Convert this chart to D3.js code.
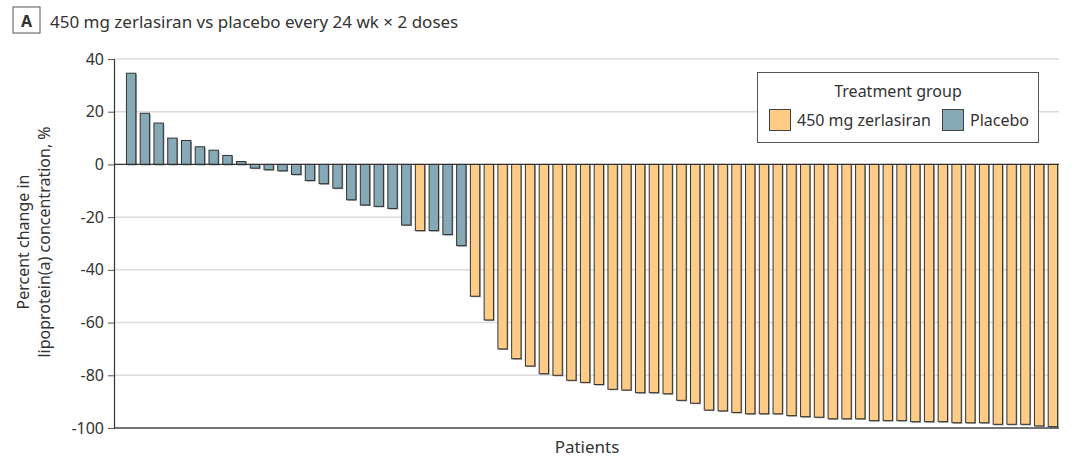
<!DOCTYPE html>
<html><head><meta charset="utf-8">
<script src="https://cdn.jsdelivr.net/npm/d3@7"></script>
<style>body{margin:0;background:#fff}svg{display:block}text{font-family:"Noto Sans",sans-serif;fill:#333}</style>
</head><body><svg id="c" width="1080" height="458"></svg>
<script>
// Data
const patients = d3.range(1, 69).map(i => "P" + i);
const values = [34.6,19.4,15.7,10.0,9.1,6.7,5.4,3.4,1.1,-1.4,-2.0,-2.4,-3.8,-6.1,-7.3,-9.0,-13.4,-15.4,-15.9,-16.7,-23.0,-25.1,-25.1,-26.6,-30.8,
  -50.0,-59.0,-70.0,-73.7,-76.5,-79.4,-80.0,-81.9,-82.7,-83.5,-85.3,-85.6,-86.6,-86.6,-87.0,-89.5,-90.6,-93.2,-93.5,-94.1,
  -94.6,-94.6,-94.6,-95.3,-95.7,-95.9,-96.5,-96.5,-96.5,-97.2,-97.2,-97.2,-97.6,-97.6,-97.6,-98.0,-98.0,-98.0,-98.6,-98.6,-98.6,-99.2,-99.5];
const groups = values.map((v, i) => (i === 21 || i >= 25) ? "450 mg zerlasiran" : "Placebo");
const groupNames = ["450 mg zerlasiran", "Placebo"];
const groupColors = ["#FFCC88", "#86A9B6"];
const yTicks = [40, 20, 0, -20, -40, -60, -80, -100];

const svg = d3.select("#c");
const pL = 114, pR = 1059, pT = 59, pB = 428;
const x = d3.scaleBand().domain(patients).range([123, 1061]).paddingInner(0.32).paddingOuter(0.25);
const y = d3.scaleLinear().domain([-100, 40]).range([pB, pT]);
const color = d3.scaleOrdinal().domain(groupNames).range(groupColors);

// gridlines
svg.append("g").selectAll("line").data(yTicks.filter(t => t !== 0 && t !== -100)).join("line")
  .attr("x1", pL).attr("x2", pR).attr("y1", d => y(d)).attr("y2", d => y(d))
  .attr("stroke", "#dcdcdc").attr("stroke-width", 1.5);

// y axis
const yAxis = svg.append("g").attr("transform", `translate(${pL},0)`)
  .call(d3.axisLeft(y).tickValues(yTicks).tickSize(6).tickPadding(4).tickFormat(d => d));
yAxis.select(".domain").attr("stroke", "#333").attr("stroke-width", 1.2);
yAxis.selectAll(".tick line").attr("stroke", "#555");
yAxis.selectAll(".tick text").style("font-family", '"Noto Sans",sans-serif').style("font-size", "16px").attr("fill", "#333");

// bars: shadow + bar
const data = values.map((v, i) => ({p: patients[i], v, g: groups[i]}));
svg.append("g").selectAll("rect").data(data).join("rect")
  .attr("x", d => x(d.p) + 1).attr("width", x.bandwidth())
  .attr("y", d => Math.min(y(d.v), y(0)) + 1).attr("height", d => Math.abs(y(d.v) - y(0)))
  .attr("fill", "#8a8a8a");
svg.append("g").selectAll("rect").data(data).join("rect")
  .attr("x", d => x(d.p)).attr("width", x.bandwidth())
  .attr("y", d => Math.min(y(d.v), y(0))).attr("height", d => Math.abs(y(d.v) - y(0)))
  .attr("fill", d => color(d.g)).attr("stroke", "#333").attr("stroke-width", 1);

// zero line and bottom line
svg.append("line").attr("x1", pL).attr("x2", pR).attr("y1", y(0)).attr("y2", y(0)).attr("stroke", "#333").attr("stroke-width", 1.2);
svg.append("line").attr("x1", pL).attr("x2", pR).attr("y1", y(-100)).attr("y2", y(-100)).attr("stroke", "#444").attr("stroke-width", 1.5);

// axis titles
svg.append("text").attr("x", 587).attr("y", 453).attr("text-anchor", "middle").style("font-size", "17px").text("Patients");
const yl = svg.append("text").attr("transform", "translate(0,242) rotate(-90)").attr("text-anchor", "middle").style("font-size", "16px");
yl.append("tspan").attr("x", 0).attr("y", 29).text("Percent change in");
yl.append("tspan").attr("x", 0).attr("y", 50).text("lipoprotein(a) concentration, %");

// title
svg.append("rect").attr("x", 13).attr("y", 7).attr("width", 27).attr("height", 26).attr("fill", "#fff").attr("stroke", "#555").attr("stroke-width", 1);
svg.append("text").attr("x", 26.5).attr("y", 26.5).attr("text-anchor", "middle").style("font-size", "16px").style("font-weight", "bold").text("A");
svg.append("text").attr("x", 50).attr("y", 27.5).style("font-size", "17px").text("450 mg zerlasiran vs placebo every 24 wk × 2 doses");

// legend
const lg = svg.append("g");
lg.append("rect").attr("x", 757.5).attr("y", 72.5).attr("width", 281).attr("height", 70).attr("fill", "#fff").attr("stroke", "#555");
lg.append("text").attr("x", 898).attr("y", 97).attr("text-anchor", "middle").style("font-size", "16px").text("Treatment group");
const lx = [769, 942];
groupNames.forEach((g, i) => {
  lg.append("rect").attr("x", lx[i] + 0.5).attr("y", 109.5).attr("width", 21).attr("height", 21).attr("fill", color(g)).attr("stroke", "#444");
  lg.append("text").attr("x", lx[i] + 28).attr("y", 126).style("font-size", "16px").text(g);
});
</script></body></html>
